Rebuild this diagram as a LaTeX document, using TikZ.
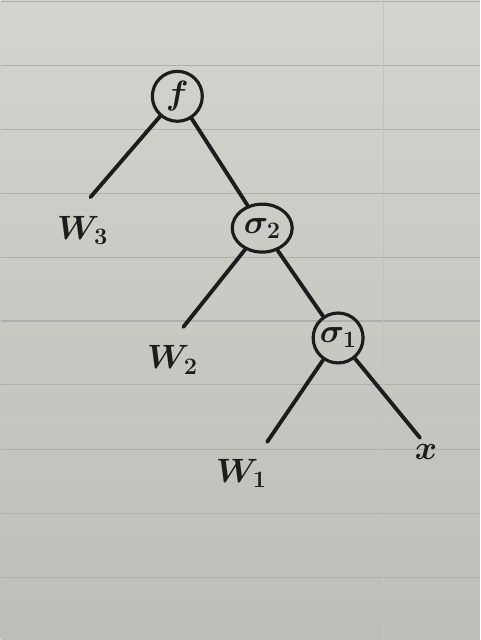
\documentclass[tikz,border=0pt]{standalone}
\usepackage{fix-cm}
\usepackage{tikz}
\usetikzlibrary{shapes.geometric}

\definecolor{paperTop}{RGB}{212,212,207}
\definecolor{paperBot}{RGB}{190,190,185}
\definecolor{ruleLine}{RGB}{175,175,173}
\definecolor{ink}{RGB}{28,28,28}

\tikzset{
  opnode/.style={draw=ink, line width=4.5pt, circle, inner sep=0pt, minimum size=25mm, text=ink},
  leaf/.style={inner sep=0pt, text=ink},
  edge/.style={draw=ink, line width=5.5pt, line cap=round}
}

\begin{document}
\begin{tikzpicture}[x=0.5mm, y=-0.5mm, font=\fontsize{48}{52}\selectfont\boldmath]
\shade[top color=paperTop, bottom color=paperBot] (0,0) rectangle (480,640);
\foreach \yy in {1,65,129,193,257,321,385,450,514,578}
  \draw[ruleLine, line width=1.6pt] (0,\yy) -- (480,\yy);
\draw[ruleLine!50!paperTop, line width=1.2pt] (383,0) -- (383,640);

\node (f) [opnode] at (177,96) {$f$};
\node (s2) [opnode, ellipse, minimum width=30mm, minimum height=24mm] at (262,228) {$\sigma_2$};
\node (s1) [opnode] at (338,338) {$\sigma_1$};

\node (w3) [leaf] at (82,230) {$W_3$};
\node (w2) [leaf] at (172,360) {$W_2$};
\node (w1) [leaf] at (241,474) {$W_1$};
\node (x) [leaf] at (426,452) {$x$};

\coordinate (w3end) at (90,197);
\coordinate (w2end) at (183,327);
\coordinate (w1end) at (267,442);
\coordinate (xend) at (420,438);

\draw[edge] (f) -- (w3end);
\draw[edge] (f) -- (s2);
\draw[edge] (s2) -- (w2end);
\draw[edge] (s2) -- (s1);
\draw[edge] (s1) -- (w1end);
\draw[edge] (s1) -- (xend);
\end{tikzpicture}
\end{document}
